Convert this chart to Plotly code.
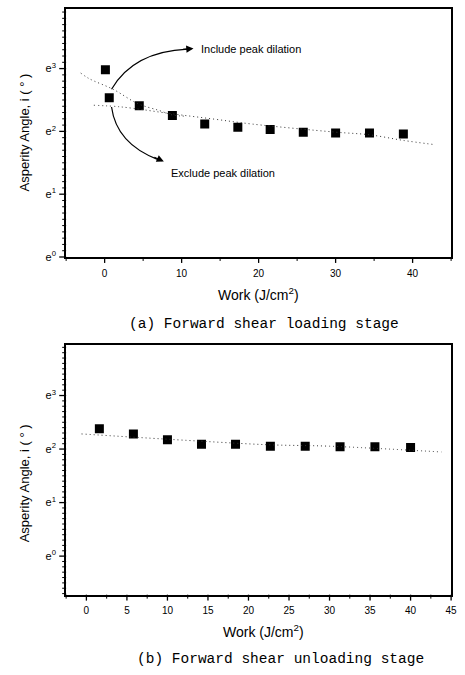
import numpy as np
import plotly.graph_objects as go

# ---------------- data ----------------
# (a) Forward shear loading stage
work_a = [0.1, 0.6, 4.5, 8.8, 13.0, 17.3, 21.5, 25.8, 30.0, 34.4, 38.8]
angle_a = [19.7, 12.6, 11.1, 9.5, 8.3, 7.9, 7.6, 7.3, 7.2, 7.2, 7.1]
# fitted curves
fit_inc_x = [-3.1, -2.0, 1.15, 4.3, 7.1, 8.8, 10.7]
fit_inc_y = [18.7, 17.1, 14.4, 11.5, 10.3, 9.6, 9.4]
fit_exc_x = [-1.4, 2.2, 8.6, 14.1, 19.2, 30.0, 34.4, 38.8, 42.7]
fit_exc_y = [11.2, 10.9, 9.8, 9.0, 8.3, 7.3, 7.0, 6.4, 6.0]

# (b) Forward shear unloading stage
work_b = [1.6, 5.8, 10.0, 14.2, 18.4, 22.7, 27.0, 31.3, 35.6, 40.0]
angle_b = [10.8, 9.8, 8.8, 8.1, 8.1, 7.8, 7.8, 7.7, 7.7, 7.6]
fit_b_x = [-0.6, 13.6, 22.6, 29.9, 43.8]
fit_b_y = [9.8, 8.6, 8.0, 7.8, 7.0]

y_powers = [0, 1, 2, 3]
y_ticktext = ["e<sup>0</sup>", "e<sup>1</sup>", "e<sup>2</sup>", "e<sup>3</sup>"]
xa_ticks = [0, 10, 20, 30, 40]
xb_ticks = [0, 5, 10, 15, 20, 25, 30, 35, 40, 45]

W, H = 465, 675
FONT = "Liberation Sans"


def px(x):
    return x / W


def py(y):
    return 1 - y / H


fig = go.Figure()

mk = dict(symbol="square", size=9, color="black")
dotline = dict(color="#333", width=1, dash="1px,3px", shape="spline")
fig.add_trace(go.Scatter(x=work_a, y=angle_a, mode="markers", marker=mk,
                         xaxis="x", yaxis="y", showlegend=False))
fig.add_trace(go.Scatter(x=fit_inc_x, y=fit_inc_y, mode="lines", line=dotline,
                         xaxis="x", yaxis="y", showlegend=False))
fig.add_trace(go.Scatter(x=fit_exc_x, y=fit_exc_y, mode="lines", line=dotline,
                         xaxis="x", yaxis="y", showlegend=False))
fig.add_trace(go.Scatter(x=work_b, y=angle_b, mode="markers", marker=mk,
                         xaxis="x2", yaxis="y2", showlegend=False))
fig.add_trace(go.Scatter(x=fit_b_x, y=fit_b_y, mode="lines", line=dotline,
                         xaxis="x2", yaxis="y2", showlegend=False))
# empty traces so the label-only overlay axes (powers of e) are drawn
for xa, ya in [("x", "y3"), ("x2", "y4")]:
    fig.add_trace(go.Scatter(x=[], y=[], xaxis=xa, yaxis=ya, showlegend=False, hoverinfo="skip"))

log_e = np.log10(np.e)


def minor_vals(lo, hi):
    ks = np.arange(int(np.ceil(lo * 10)), int(np.floor(hi * 10)) + 1)
    return [k / 10 for k in ks if k % 10 != 0]


CLEAR = "rgba(0,0,0,0)"
plain = dict(showgrid=False, zeroline=False)
frame = dict(showline=True, linecolor="black", linewidth=1.5, mirror=True)
major_x = dict(ticks="outside", ticklen=6, tickcolor=CLEAR, tickmode="array",
               tickfont=dict(family=FONT, size=10, color="black"))
ylog = dict(type="log", ticks="", showticklabels=False)
ymajor = dict(type="linear", showline=False, ticks="outside", ticklen=7, tickcolor=CLEAR,
              tickmode="array", tickvals=y_powers, ticktext=y_ticktext,
              tickfont=dict(family=FONT, size=11, color="black"))

ya_lo, ya_hi = 0.0, 3.95
yb_lo, yb_hi = -0.72, 3.94
xa_rng = [-5, 45]
xb_rng = [-2.5, 45]
dom_x = [px(67), px(457)]
dom_a = [py(259.3), py(9)]
dom_b = [py(600), py(348.3)]

fig.update_layout(
    width=W, height=H, margin=dict(l=0, r=0, t=0, b=0),
    paper_bgcolor="white", plot_bgcolor="white",
    xaxis=dict(domain=dom_x, anchor="y", range=xa_rng, tickvals=xa_ticks,
               **frame, **major_x, **plain),
    yaxis=dict(domain=dom_a, anchor="x", range=[ya_lo * log_e, ya_hi * log_e],
               **frame, **ylog, **plain),
    yaxis3=dict(overlaying="y", anchor="x", side="left", range=[ya_lo, ya_hi], **ymajor, **plain),
    xaxis2=dict(domain=dom_x, anchor="y2", range=xb_rng, tickvals=xb_ticks,
                **frame, **major_x, **plain),
    yaxis2=dict(domain=dom_b, anchor="x2", range=[yb_lo * log_e, yb_hi * log_e],
                **frame, **ylog, **plain),
    yaxis4=dict(overlaying="y2", anchor="x2", side="left", range=[yb_lo, yb_hi], **ymajor, **plain),
)

ann = []


def txt(text, x, y, font, xanchor="center", angle=0):
    return dict(text=text, x=px(x), y=py(y), xref="paper", yref="paper", textangle=angle,
                showarrow=False, font=font, xanchor=xanchor, yanchor="middle")


title_font = dict(family=FONT, size=13, color="black")
ann.append(txt("Asperity Angle, i ( ° )", 25, 134, title_font, angle=-90))
ann.append(txt("Asperity Angle, i ( ° )", 25, 488, title_font, angle=-90))
work_font = dict(family=FONT, size=14, color="black")
ann.append(txt("Work (J/cm<sup>2</sup>)", 262, 297, work_font))
ann.append(txt("Work (J/cm<sup>2</sup>)", 267, 637, work_font))
cap_font = dict(family="Liberation Mono", size=14.5, color="black")
ann.append(txt("(a) Forward shear loading stage", 267, 327, cap_font))
ann.append(txt("(b) Forward shear unloading stage", 284, 665, cap_font))
lab_font = dict(family=FONT, size=11, color="black")
ann.append(txt("Include peak dilation", 202, 49, lab_font, xanchor="left"))
ann.append(txt("Exclude peak dilation", 171, 175, lab_font, xanchor="left"))
ann.append(dict(text="", x=px(196), y=py(49), xref="paper", yref="paper", showarrow=True,
                ax=-12, ay=1, arrowhead=2, arrowsize=1.2, arrowwidth=1.2, arrowcolor="black",
                standoff=0))
ann.append(dict(text="", x=px(166), y=py(163), xref="paper", yref="paper", showarrow=True,
                ax=-11, ay=-5, arrowhead=2, arrowsize=1.2, arrowwidth=1.2, arrowcolor="black",
                standoff=0))
fig.update_layout(annotations=ann)


def qpath(p0, p1, p2):
    return "M {},{} Q {},{} {},{}".format(px(p0[0]), py(p0[1]), px(p1[0]), py(p1[1]),
                                          px(p2[0]), py(p2[1]))


shapes = [
    dict(type="path", xref="paper", yref="paper", path=qpath((113, 90), (135, 52), (190, 49.5)),
         line=dict(color="black", width=1.2)),
    dict(type="path", xref="paper", yref="paper", path=qpath((113, 108), (118, 145), (160, 161)),
         line=dict(color="black", width=1.2)),
]


def lin(v, rng, dom):
    return dom[0] + (v - rng[0]) / (rng[1] - rng[0]) * (dom[1] - dom[0])


def xticks(rng, ydom, vals, length, width):
    out = []
    for v in vals:
        xp = lin(v, rng, dom_x)
        out.append(dict(type="line", xref="paper", yref="paper", x0=xp, x1=xp,
                        y0=ydom[0], y1=ydom[0] - length / H,
                        line=dict(color="black", width=width)))
    return out


def yticks(rng, ydom, vals, length, width):
    out = []
    for v in vals:
        yp = lin(v, rng, ydom)
        out.append(dict(type="line", xref="paper", yref="paper", y0=yp, y1=yp,
                        x0=dom_x[0], x1=dom_x[0] - length / W,
                        line=dict(color="black", width=width)))
    return out


shapes += xticks(xa_rng, dom_a, xa_ticks, 6, 1.3)
shapes += xticks(xa_rng, dom_a, [t + 5 for t in [-10] + xa_ticks], 4, 1)
shapes += yticks([ya_lo, ya_hi], dom_a, y_powers, 7, 1.3)
shapes += yticks([ya_lo, ya_hi], dom_a, minor_vals(ya_lo, ya_hi), 4, 1)
shapes += xticks(xb_rng, dom_b, xb_ticks, 6, 1.3)
shapes += xticks(xb_rng, dom_b, [t - 2.5 for t in xb_ticks], 4, 1)
shapes += yticks([yb_lo, yb_hi], dom_b, y_powers, 7, 1.3)
shapes += yticks([yb_lo, yb_hi], dom_b, minor_vals(yb_lo, yb_hi), 4, 1)
fig.update_layout(shapes=shapes)

fig.write_html("out.html")
